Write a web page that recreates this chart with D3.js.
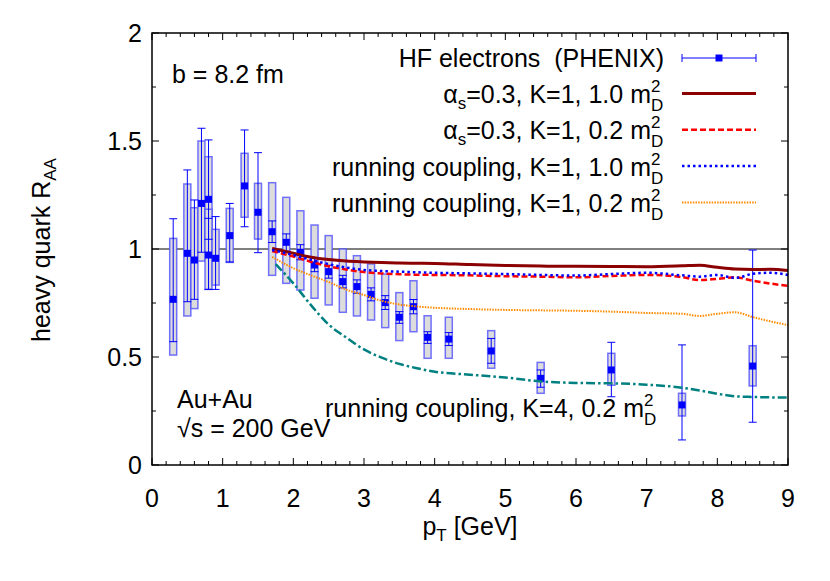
<!DOCTYPE html>
<html><head><meta charset="utf-8">
<script src="https://cdn.jsdelivr.net/npm/d3@7"></script>
<style>body{margin:0;background:#fff}svg{display:block}text{font-family:"Liberation Sans",Arial,sans-serif;fill:#000}</style>
</head><body><svg id="c" width="830" height="581"></svg>
<script>
// PHENIX HF electron data
const dataPt   = [0.30,0.50,0.60,0.70,0.80,0.80,0.90,1.10,1.31,1.50,1.70,1.90,2.10,2.30,2.50,2.70,2.90,3.10,3.30,3.50,3.70,3.90,4.20,4.80,5.50,6.50,7.50,8.50];
const dataR    = [0.767,0.980,0.949,1.211,1.230,0.972,0.957,1.062,1.292,1.170,1.080,1.031,0.985,0.926,0.895,0.849,0.826,0.790,0.752,0.684,0.733,0.591,0.583,0.528,0.401,0.440,0.278,0.458];
const statLo   = [0.571,0.756,0.767,0.985,1.045,0.813,0.813,0.940,1.103,0.983,1.030,0.990,0.950,0.895,0.865,0.820,0.795,0.760,0.720,0.656,0.700,0.563,0.553,0.471,0.360,0.316,0.116,0.198];
const statHi   = [1.140,1.366,1.227,1.559,1.505,1.142,1.150,1.211,1.551,1.446,1.130,1.070,1.020,0.957,0.925,0.878,0.857,0.820,0.784,0.710,0.766,0.617,0.613,0.586,0.440,0.568,0.556,0.995];
const sysLo    = [0.509,0.690,0.724,0.944,1.034,0.813,0.833,0.938,1.147,1.046,0.878,0.841,0.810,0.772,0.741,0.707,0.690,0.671,0.636,0.576,0.617,0.494,0.494,0.448,0.332,0.369,0.227,0.366];
const sysHi    = [1.049,1.301,1.191,1.500,1.427,1.184,1.091,1.188,1.443,1.304,1.307,1.239,1.177,1.111,1.062,1.000,0.969,0.931,0.884,0.798,0.853,0.691,0.684,0.622,0.475,0.517,0.332,0.552];

// Theory curves
const curvePt  = [1.7,2.0,2.25,2.5,2.75,3.0,3.25,3.5,3.75,4.0,4.5,5.0,5.5,6.0,6.5,7.0,7.5,7.75,8.0,8.25,8.5,8.75,9.0];
const fixed10  = [1.003,0.980,0.962,0.951,0.944,0.940,0.937,0.935,0.934,0.933,0.928,0.924,0.921,0.920,0.919,0.918,0.922,0.925,0.915,0.907,0.905,0.906,0.900];
const fixed02  = [0.991,0.965,0.941,0.920,0.905,0.893,0.887,0.883,0.881,0.880,0.878,0.874,0.872,0.869,0.875,0.880,0.870,0.856,0.862,0.869,0.853,0.840,0.829];
const run10    = [0.995,0.972,0.950,0.930,0.914,0.903,0.898,0.895,0.892,0.890,0.887,0.884,0.880,0.877,0.884,0.890,0.878,0.872,0.880,0.866,0.885,0.890,0.880];
const run02    = [0.964,0.911,0.878,0.847,0.812,0.787,0.760,0.743,0.734,0.728,0.722,0.718,0.716,0.714,0.710,0.704,0.700,0.690,0.700,0.707,0.685,0.665,0.648];
const k4Pt     = [1.75,2.0,2.25,2.5,2.75,3.0,3.25,3.5,3.75,4.0,4.5,5.0,5.5,6.0,6.5,7.0,7.5,7.75,8.0,8.25,8.5,8.75,9.0];
const run02K4  = [0.930,0.841,0.740,0.650,0.590,0.535,0.497,0.468,0.448,0.432,0.418,0.405,0.387,0.380,0.378,0.372,0.358,0.345,0.330,0.318,0.315,0.313,0.312];

const xTicks = [0,1,2,3,4,5,6,7,8,9];
const yTicks = [0,0.5,1,1.5,2];

const svg = d3.select("#c");
const L=152,R=788,T=33,B=465;
const x = d3.scaleLinear().domain([0,9]).range([L,R]);
const y = d3.scaleLinear().domain([0,2]).range([B,T]);
const FS = 25, SS = 17;

// reference line at 1
svg.append("line").attr("x1",x(0)).attr("x2",x(9)).attr("y1",y(1)).attr("y2",y(1)).attr("stroke","#000").attr("stroke-width",1);

// data: boxes, error bars, markers
const pts = dataPt.map((p,i)=>({p,r:dataR[i],sl:statLo[i],sh:statHi[i],yl:sysLo[i],yh:sysHi[i]}));
const bw=7, cw=8, ms=7;
const g = svg.append("g");
pts.forEach(d=>{
  g.append("rect").attr("x",x(d.p)-bw/2).attr("width",bw).attr("y",y(d.yh)).attr("height",y(d.yl)-y(d.yh))
   .attr("fill","#dcdcdc").attr("stroke","#5050ff").attr("stroke-opacity",0.8).attr("stroke-width",1.5);
});
pts.forEach(d=>{
  g.append("line").attr("x1",x(d.p)).attr("x2",x(d.p)).attr("y1",y(d.sl)).attr("y2",y(d.sh)).attr("stroke","#0000ff").attr("stroke-width",1);
  [d.sl,d.sh].forEach(v=>g.append("line").attr("x1",x(d.p)-cw/2).attr("x2",x(d.p)+cw/2).attr("y1",y(v)).attr("y2",y(v)).attr("stroke","#0000ff").attr("stroke-width",1));
  g.append("rect").attr("x",x(d.p)-ms/2).attr("y",y(d.r)-ms/2).attr("width",ms).attr("height",ms).attr("fill","#0000ff");
});

// curves
const styles = [
  {xs:curvePt,ys:fixed10,c:"#8b0000",w:3,da:null},
  {xs:curvePt,ys:fixed02,c:"#ff0000",w:2.5,da:"6,3"},
  {xs:curvePt,ys:run10,c:"#0000ff",w:2.5,da:"2.5,3"},
  {xs:curvePt,ys:run02,c:"#ff8c00",w:2,da:"1.5,1.2"},
  {xs:k4Pt,ys:run02K4,c:"#008080",w:2.5,da:"9,3,2.5,3"}
];
const line = d3.line().x(d=>x(d[0])).y(d=>y(d[1])).curve(d3.curveMonotoneX);
styles.forEach(s=>{
  svg.append("path").attr("d",line(s.xs.map((v,i)=>[v,s.ys[i]]))).attr("fill","none")
    .attr("stroke",s.c).attr("stroke-width",s.w).attr("stroke-dasharray",s.da);
});

// frame and axes
svg.append("rect").attr("x",L).attr("y",T).attr("width",R-L).attr("height",B-T).attr("fill","none").attr("stroke","#000").attr("stroke-width",1.5);
const xMinor = d3.range(0,9.001,0.2), yMinor = d3.range(0,2.001,0.25);
xMinor.forEach(v=>{
  const maj = Math.abs(v-Math.round(v))<1e-6, len = maj?7:4;
  svg.append("line").attr("x1",x(v)).attr("x2",x(v)).attr("y1",B).attr("y2",B-len).attr("stroke","#000");
  svg.append("line").attr("x1",x(v)).attr("x2",x(v)).attr("y1",T).attr("y2",T+len).attr("stroke","#000");
});
yMinor.forEach(v=>{
  const maj = Math.abs(v*2-Math.round(v*2))<1e-6, len = maj?7:4;
  svg.append("line").attr("x1",L).attr("x2",L+len).attr("y1",y(v)).attr("y2",y(v)).attr("stroke","#000");
  svg.append("line").attr("x1",R).attr("x2",R-len).attr("y1",y(v)).attr("y2",y(v)).attr("stroke","#000");
});
xTicks.forEach(v=>svg.append("text").attr("x",x(v)).attr("y",B+42).attr("text-anchor","middle").attr("font-size",FS).text(v));
yTicks.forEach(v=>svg.append("text").attr("x",L-10).attr("y",y(v)+9).attr("text-anchor","end").attr("font-size",FS).text(v));

// axis labels
const xl = svg.append("text").attr("x",470).attr("y",535).attr("text-anchor","middle").attr("font-size",FS);
xl.append("tspan").text("p");
xl.append("tspan").attr("font-size",SS).attr("dy",6).text("T");
xl.append("tspan").attr("dy",-6).text(" [GeV]");
const yl = svg.append("text").attr("transform","translate(50,250) rotate(-90)").attr("text-anchor","middle").attr("font-size",FS);
yl.append("tspan").text("heavy quark R");
yl.append("tspan").attr("font-size",SS).attr("dy",6).text("AA");

// annotations
svg.append("text").attr("x",172).attr("y",83).attr("font-size",FS).text("b = 8.2 fm");
svg.append("text").attr("x",177).attr("y",408).attr("font-size",FS).text("Au+Au");
svg.append("text").attr("x",177).attr("y",437).attr("font-size",FS).text("\u221As = 200 GeV");

function mD(xEnd, yb, main, alpha){
  const t = svg.append("text").attr("x",xEnd).attr("y",yb).attr("text-anchor","end").attr("font-size",FS);
  if(alpha){ t.append("tspan").text("\u03B1"); t.append("tspan").attr("font-size",SS).attr("dy",6).text("s"); t.append("tspan").attr("dy",-6).text(main); }
  else t.text(main);
  svg.append("text").attr("x",xEnd).attr("y",yb-11).attr("font-size",SS).text("2");
  svg.append("text").attr("x",xEnd).attr("y",yb+8).attr("font-size",SS).text("D");
}
// legend
const legX1=682, legX2=756, legTextEnd=651;
svg.append("text").attr("x",664).attr("y",67).attr("text-anchor","end").attr("font-size",FS).text("HF electrons\u00A0\u00A0(PHENIX)");
const ly0 = 58;
svg.append("line").attr("x1",legX1).attr("x2",legX2).attr("y1",ly0).attr("y2",ly0).attr("stroke","#0000ff");
[legX1,legX2].forEach(v=>svg.append("line").attr("x1",v).attr("x2",v).attr("y1",ly0-4).attr("y2",ly0+4).attr("stroke","#0000ff"));
svg.append("rect").attr("x",(legX1+legX2)/2-3.5).attr("y",ly0-3.5).attr("width",7).attr("height",7).attr("fill","#0000ff");
const legLabels = ["=0.3, K=1, 1.0 m","=0.3, K=1, 0.2 m","running coupling, K=1, 1.0 m","running coupling, K=1, 0.2 m"];
legLabels.forEach((lab,i)=>{
  const yb = 103 + i*36.3;
  mD(legTextEnd, yb, lab, i<2);
  const s = styles[i];
  svg.append("line").attr("x1",legX1).attr("x2",legX2).attr("y1",yb-9.5).attr("y2",yb-9.5)
    .attr("stroke",s.c).attr("stroke-width",s.w).attr("stroke-dasharray",s.da);
});
// K=4 label
const k4 = svg.append("text").attr("x",325).attr("y",417).attr("font-size",FS).text("running coupling, K=4, 0.2 m");
const kb = k4.node().getBBox();
svg.append("text").attr("x",kb.x+kb.width).attr("y",406).attr("font-size",SS).text("2");
svg.append("text").attr("x",kb.x+kb.width).attr("y",425).attr("font-size",SS).text("D");
</script></body></html>
